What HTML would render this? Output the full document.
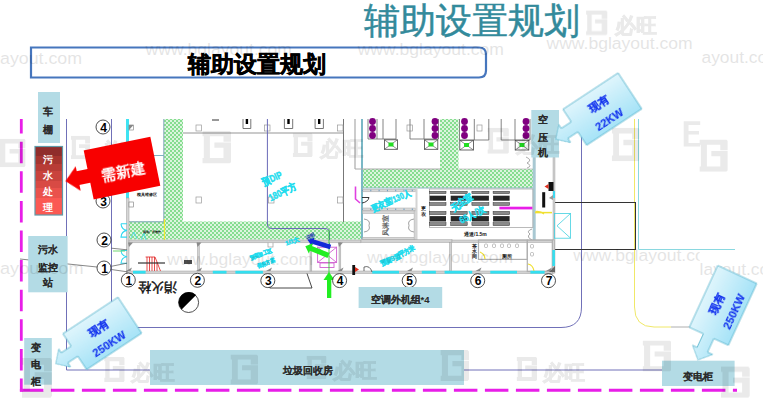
<!DOCTYPE html>
<html><head><meta charset="utf-8">
<style>
html,body{margin:0;padding:0;background:#fff;width:763px;height:412px;overflow:hidden}
svg{position:absolute;left:0;top:0}
text{font-family:"Liberation Sans",sans-serif}
</style></head><body>
<svg width="763" height="412" viewBox="0 0 763 412">
<defs>
<pattern id="hatch" width="4" height="4" patternUnits="userSpaceOnUse">
<rect width="4" height="4" fill="#dcf5de"/><rect width="2" height="2" fill="#86dd90"/><rect x="2" y="2" width="2" height="2" fill="#86dd90"/>
</pattern>
<linearGradient id="redg" x1="0" y1="0" x2="0" y2="1"><stop offset="0" stop-color="#8f2d2b"/><stop offset="0.14" stop-color="#8f2d2b"/><stop offset="0.14" stop-color="#a6352f"/><stop offset="0.25" stop-color="#a6352f"/><stop offset="0.25" stop-color="#b83c36"/><stop offset="0.36" stop-color="#b83c36"/><stop offset="0.36" stop-color="#c9433d"/><stop offset="0.5" stop-color="#c9433d"/><stop offset="0.5" stop-color="#d84a44"/><stop offset="0.61" stop-color="#d84a44"/><stop offset="0.61" stop-color="#ea524c"/><stop offset="0.75" stop-color="#ea524c"/><stop offset="0.75" stop-color="#fb5953"/><stop offset="1.0" stop-color="#fb5953"/></linearGradient>
<linearGradient id="blueg" x1="0" y1="0" x2="0" y2="1">
<stop offset="0" stop-color="#dff5fc"/><stop offset="1" stop-color="#a6e3f7"/>
</linearGradient>
<path id="arr" d="M0,0 H66 V43 H0 V27 H-12 V32 L-22.5,21 L-12,10.5 V15 H0 Z"/>
<path id="arr3" d="M0,0 H68 V43 H0 V27 H-15 V32.5 L-26,21.5 L-15,10.5 V15.5 H0 Z"/>
<symbol id="ig" viewBox="0 0 21.2 24.5" preserveAspectRatio="none">
<path d="M0,0 H20.1 L21.2,1.2 V8.2 H15.6 V4.1 H5.6 V20.4 H15.6 V12.8 H8.9 V8.8 H21.2 V23.3 L20.1,24.5 H0 V20.4 H1.1 V4.1 H0 Z"/>
</symbol>
</defs>

<!-- big title -->
<text x="472" y="33" font-size="36" fill="#338a9b" stroke="#338a9b" stroke-width="0.5" text-anchor="middle">辅助设置规划</text>
<!-- title box -->
<path d="M31,47.5 H479 Q486,47.5 486,54.5 V70.5 Q486,77.5 479,77.5 H31 Z" fill="none" stroke="#4676bd" stroke-width="2.2"/>
<text x="256.5" y="72" font-size="23" font-weight="bold" fill="#000" stroke="#000" stroke-width="0.5" text-anchor="middle">辅助设置规划</text>

<!-- magenta dashed boundary -->
<path d="M21.3,119 V391.6" fill="none" stroke="#e81ee8" stroke-width="2.8" stroke-dasharray="21.5 8.1" stroke-dashoffset="6.9"/>
<path d="M19.9,390.3 H737" fill="none" stroke="#e81ee8" stroke-width="3" stroke-dasharray="23.5 7.5"/>

<!-- site lines -->
<path d="M66.5,119 V370 H663" fill="none" stroke="#7070b8" stroke-width="1"/>
<path d="M111.5,119 V327.5 H561 Q581.5,327.5 581.5,307 V119" fill="none" stroke="#7070b8" stroke-width="1"/>
<path d="M634.5,119 V307 Q634.5,327 654,327 H671" fill="none" stroke="#f0e868" stroke-width="1"/>
<path d="M671,327 H690" fill="none" stroke="#999" stroke-width="0.8"/>
<path d="M638.5,119 V249.5 H735" fill="none" stroke="#8ad8e0" stroke-width="1"/>
<rect x="553.5" y="202.5" width="82" height="47" fill="none" stroke="#333" stroke-width="1"/>

<!-- ===== floor plan ===== -->
<g id="plan">
<!-- green corridors -->
<rect x="164" y="119" width="19" height="103" fill="url(#hatch)"/>
<rect x="128" y="221.5" width="233" height="18" fill="url(#hatch)"/>
<rect x="440" y="119" width="18.5" height="50" fill="url(#hatch)"/>
<rect x="362" y="169" width="171" height="19" fill="url(#hatch)"/>
<path d="M163.8,119 V221.8 H128" fill="none" stroke="#7fa6b8" stroke-width="1"/>
<line x1="164.5" y1="219" x2="164.5" y2="240" stroke="#f2ea30" stroke-width="1.2"/>

<!-- cyan west wall upper -->
<rect x="126" y="119" width="3" height="79" fill="#3fe3f2"/>
<line x1="129" y1="155.5" x2="164" y2="155.5" stroke="#7fb0c0" stroke-width="1"/>
<rect x="129" y="125" width="4.5" height="5" fill="#fff" stroke="#777" stroke-width="0.6"/>
<path d="M129,125 L133.5,125 L129,130Z" fill="#888"/>
<!-- west wall lower gray -->
<rect x="126.5" y="198" width="2.5" height="75" fill="#d6d6d6" stroke="#9a9a9a" stroke-width="0.5"/>
<rect x="129" y="202" width="4.5" height="5" fill="#fff" stroke="#777" stroke-width="0.6"/>

<!-- top north gray line -->
<line x1="183" y1="133" x2="343.5" y2="133" stroke="#b8b8b8" stroke-width="1.4"/>
<line x1="343.5" y1="119" x2="343.5" y2="222" stroke="#777" stroke-width="1"/>
<line x1="355" y1="119" x2="355" y2="169" stroke="#aaa" stroke-width="1.2"/>
<rect x="361" y="119" width="2" height="120" fill="#7ab8c6"/>
<line x1="355" y1="169" x2="440" y2="169" stroke="#aaa" stroke-width="1"/>
<line x1="458.5" y1="169" x2="533" y2="169" stroke="#bbb" stroke-width="0.8"/>
<line x1="362" y1="188" x2="533" y2="188" stroke="#8fb6c4" stroke-width="1"/>
<!-- column squares -->
<g fill="#fff" stroke="#9a9a9a" stroke-width="0.7">
<rect x="196" y="125" width="5.5" height="6"/>
<rect x="264.5" y="125" width="5.5" height="6"/>
<rect x="337.5" y="125" width="5.5" height="6"/>
<rect x="196" y="197" width="5.5" height="6"/>
<rect x="268.5" y="197" width="5.5" height="6"/>
<rect x="337.5" y="197" width="5.5" height="6"/>
<rect x="268" y="241" width="5" height="6"/>
<rect x="407" y="125" width="5.5" height="6"/>
<rect x="477" y="125" width="5" height="6"/>
</g>
<!-- machine icons top -->
<g>
<path d="M243,119 V128.5 H250.8 V119" fill="none" stroke="#666" stroke-width="0.9"/>
<rect x="245.7" y="119" width="2.4" height="5" fill="#000"/>
<path d="M284.4,119 V128.5 H292.7 V119" fill="none" stroke="#666" stroke-width="0.9"/>
<rect x="287.3" y="119" width="2.4" height="5" fill="#000"/>
<path d="M315.1,119 V128.5 H323.4 V119" fill="none" stroke="#666" stroke-width="0.9"/>
<rect x="318" y="119" width="2.4" height="5" fill="#000"/>
<line x1="212" y1="120" x2="219" y2="120" stroke="#333" stroke-width="1"/>
</g>

<!-- DIP room blue rounded line -->
<path d="M267.4,119 V224 Q267.4,228.5 272,228.5 H325 Q329.5,228.5 329.5,233 V246" fill="none" stroke="#6a6ab8" stroke-width="1"/>
<!-- magenta L -->
<path d="M355.5,186.5 V199 L360,203" fill="none" stroke="#e040e0" stroke-width="1.6"/>

<!-- machines (purple circles + X boxes) -->
<g id="mach">
<g stroke="#777" stroke-width="0.9" fill="none">
<path d="M368,119 V139 H396 V119 M377,119 V139 M383,119 V139"/>
<path d="M410,119 V139 H438.5 V119 M424,119 V139"/>
<path d="M459.5,119 V140 H488.8 V119 M474.3,119 V140"/>
<path d="M501.2,119 V140 H530 V119 M515,119 V140"/>
</g>
<g fill="#800080">
<circle cx="372.5" cy="121.5" r="3.4"/><circle cx="372.5" cy="128.5" r="3.4"/><circle cx="372.5" cy="135.5" r="3.4"/>
<circle cx="435" cy="121.5" r="3.4"/><circle cx="435" cy="128.5" r="3.4"/><circle cx="435" cy="135.5" r="3.4"/>
<circle cx="464.5" cy="121.5" r="3.4"/><circle cx="464.5" cy="128.5" r="3.4"/><circle cx="464.5" cy="135.5" r="3.4"/>
<circle cx="526" cy="121.5" r="3.4"/><circle cx="526" cy="128.5" r="3.4"/><circle cx="526" cy="135.5" r="3.4"/>
</g>
<g stroke="#444" stroke-width="0.8" fill="#fff">
<rect x="384.4" y="139.8" width="13" height="9.5"/>
<rect x="424.4" y="139.8" width="13.4" height="9.5"/>
<rect x="459.8" y="140.3" width="13.6" height="9.7"/>
<rect x="515.2" y="140.3" width="13.6" height="9.7"/>
</g>
<g stroke="#444" stroke-width="0.6">
<path d="M384.4,139.8 L397.4,149.3 M397.4,139.8 L384.4,149.3"/>
<path d="M424.4,139.8 L437.8,149.3 M437.8,139.8 L424.4,149.3"/>
<path d="M459.8,140.3 L473.4,150 M473.4,140.3 L459.8,150"/>
<path d="M515.2,140.3 L528.8,150 M528.8,140.3 L515.2,150"/>
</g>
<g fill="#22dd22">
<rect x="388.5" y="142.5" width="5" height="4"/><rect x="428.5" y="142.5" width="5" height="4"/>
<rect x="464" y="143" width="5" height="4"/><rect x="519.5" y="143" width="5" height="4"/>
</g>
</g>

<!-- right wall of machine hall -->
<rect x="532.7" y="157" width="3" height="83" fill="#a8c8d2"/>
<path d="M526,157 Q533,160 527,163 Q533,166 527,168" fill="none" stroke="#777" stroke-width="0.6"/>
<rect x="553" y="157" width="2" height="116" fill="#d0d0d0" stroke="#999" stroke-width="0.4"/>
<rect x="548.5" y="182" width="5" height="9" fill="#111"/>
<path d="M548.5,184 L544.5,186.5 L548.5,189Z" fill="#e03020"/>
<rect x="553" y="191" width="2" height="7" fill="#3fd8f0"/>
<rect x="542.2" y="192.2" width="3" height="15.3" fill="#111"/>
<path d="M549,198 L553,195 L553,200Z" fill="#999"/>

<!-- changing room / air shower -->
<g fill="#d8d8d8" stroke="#a8a8a8" stroke-width="0.5">
<rect x="362.5" y="189.3" width="53" height="2.5"/>
<rect x="362.5" y="208" width="53" height="2.5"/>
<rect x="362.5" y="210.9" width="54" height="2.5"/>
<rect x="362.5" y="237.3" width="54" height="2.5"/>
<rect x="414.1" y="210.9" width="2.5" height="29"/>
</g>
<line x1="362" y1="190.5" x2="415" y2="190.5" stroke="#6a9ac0" stroke-width="1.4" stroke-dasharray="1 7.3"/>
<line x1="362" y1="209.3" x2="415" y2="209.3" stroke="#6a9ac0" stroke-width="1.4" stroke-dasharray="1 7.3"/>
<path d="M364,219 Q371,220 369,225.5 Q371,231 364,232 M414,219 Q407,220 409,225.5 Q407,231 414,232" fill="none" stroke="#777" stroke-width="0.7"/>
<path d="M362,197.5 H369 Q368,202 362,203" fill="none" stroke="#222" stroke-width="0.9"/>
<text transform="translate(388,225) rotate(-90)" font-size="7" font-weight="bold" fill="#666" text-anchor="middle">风淋室</text>
<rect x="415.5" y="188" width="2" height="52" fill="#d4d4d4"/>
<!-- clean room outline + machines rows -->
<rect x="429.4" y="189" width="103.5" height="38.5" fill="none" stroke="#aaa" stroke-width="0.8"/>
<g>
<g fill="#8a8a8a" stroke="#333" stroke-width="0.5"><rect x="429.7" y="191.3" width="16.3" height="2.3"/><rect x="450.7" y="191.3" width="16.5" height="2.3"/><rect x="471.9" y="191.3" width="17" height="2.3"/><rect x="493.1" y="191.3" width="16.5" height="2.3"/>
<rect x="429.7" y="202.6" width="16.3" height="2.8"/><rect x="450.7" y="202.6" width="16.5" height="2.8"/><rect x="471.9" y="202.6" width="17" height="2.8"/><rect x="493.1" y="202.6" width="16.5" height="2.8"/>
<rect x="429.7" y="211.4" width="16.3" height="3.2"/><rect x="450.7" y="211.4" width="16.5" height="3.2"/><rect x="471.9" y="211.4" width="17" height="3.2"/><rect x="493.1" y="211.4" width="16.5" height="3.2"/>
<rect x="429.7" y="222.7" width="16.3" height="2.9"/><rect x="450.7" y="222.7" width="16.5" height="2.9"/><rect x="471.9" y="222.7" width="17" height="2.9"/><rect x="493.1" y="222.7" width="16.5" height="2.9"/></g>
<g fill="#262626"><rect x="429.7" y="195.7" width="16.3" height="5"/><rect x="450.7" y="195.7" width="16.5" height="5"/><rect x="471.9" y="195.7" width="17" height="5"/><rect x="493.1" y="195.7" width="16.5" height="5"/>
<rect x="429.7" y="216.1" width="16.3" height="5.4"/><rect x="450.7" y="216.1" width="16.5" height="5.4"/><rect x="471.9" y="216.1" width="17" height="5.4"/><rect x="493.1" y="216.1" width="16.5" height="5.4"/></g>
</g>
<rect x="499.4" y="206.7" width="33" height="2.7" fill="#e81ee8"/>
<path d="M535.5,211.5 Q541,211 544,214" fill="none" stroke="#f0e030" stroke-width="1.2"/>
<path d="M532,229 Q526,231 530,234 Q526,237 532,240" fill="none" stroke="#666" stroke-width="0.6"/>

<!-- building walls (gray) -->
<g fill="#d2d2d2" stroke="#a0a0a0" stroke-width="0.5">
<rect x="129" y="240" width="232" height="2.8"/>
<rect x="361" y="239.7" width="91" height="2.8"/>
<rect x="452" y="240" width="101" height="2.5"/>
<rect x="126.5" y="271" width="427" height="2.6"/>
<rect x="197.5" y="242.5" width="1.8" height="28.5"/>
<rect x="310" y="242.5" width="1.8" height="28.5"/>
<rect x="339" y="242.5" width="1.8" height="28.5"/>
<rect x="449.5" y="242.5" width="2.2" height="28.5"/>
<rect x="552.4" y="240" width="2.1" height="33"/>
</g>
<!-- toilet rooms -->
<g fill="none" stroke="#b0b0b0" stroke-width="1.2">
<rect x="478.5" y="240" width="48.8" height="19.4"/>
<rect x="527.3" y="240" width="25" height="31.5"/>
</g>
<g fill="#fff" stroke="#999" stroke-width="0.6">
<rect x="484.5" y="244" width="3" height="3.5" rx="1"/><rect x="492.5" y="244" width="3" height="3.5" rx="1"/><rect x="500.5" y="244" width="3" height="3.5" rx="1"/><rect x="507.5" y="244" width="3" height="3.5" rx="1"/><rect x="515.5" y="244" width="3" height="3.5" rx="1"/>
<rect x="530.5" y="244.5" width="3" height="3.5" rx="1"/><rect x="530.5" y="252.5" width="3" height="3.5" rx="1"/>
</g>
<path d="M480,252 Q485,254 485,259" fill="none" stroke="#f0e030" stroke-width="1.2"/>
<path d="M528,264 Q533,265 534,271" fill="none" stroke="#f0e030" stroke-width="1.2"/>

<g fill="#8a8a8a"><path d="M126.0,271 L132.0,267.5 L130.5,271Z"/><path d="M196.0,271 L202.0,267.5 L200.5,271Z"/><path d="M266.0,271 L272.0,267.5 L270.5,271Z"/><path d="M337.5,271 L343.5,267.5 L342,271Z"/><path d="M407.0,271 L413.0,267.5 L411.5,271Z"/><path d="M475.5,271 L481.5,267.5 L480,271Z"/><path d="M546.0,271 L552.0,267.5 L550.5,271Z"/><path d="M128,242.5 L133,242.5 L129,247Z"/><path d="M196.5,242.5 L201.5,242.5 L197.5,247Z"/><path d="M338,242.5 L343,242.5 L339,247Z"/><path d="M549,272 L555,266 L555,272Z" fill="#666"/></g>
<!-- cyan windows bottom wall -->
<g fill="#33dff0">
<rect x="133" y="270.8" width="12.6" height="2.8"/>
<rect x="212.8" y="270.8" width="13.7" height="2.8"/>
<rect x="235.4" y="270.8" width="27.5" height="2.8"/>
<rect x="372.2" y="270.8" width="26.8" height="2.8"/>
<rect x="421.8" y="270.8" width="14.1" height="2.8"/>
<rect x="444.6" y="270.8" width="27.6" height="2.8"/>
<rect x="490.3" y="270.8" width="26.7" height="2.8"/>
<rect x="530.4" y="270.8" width="14.2" height="2.8"/>
<rect x="552.4" y="250" width="2.5" height="16"/>
</g>
<!-- west window arcs -->
<path d="M121,250.5 H127 M121,250.5 Q121.5,256 127,256.8 Q121.5,257.5 121,263.2 H127" fill="none" stroke="#30d8f0" stroke-width="1.1"/>
<path d="M121,223.7 H127 M121,223.7 Q121.5,229.5 127,230.4 Q121.5,231.3 121,237.1 H127" fill="none" stroke="#30d8f0" stroke-width="1.1"/>
<path d="M131,238 L134,232 L137,239 M141,240 L144,233 L146,240" fill="none" stroke="#40d8f0" stroke-width="0.8"/>

<!-- red stairs -->
<g stroke="#e02020" stroke-width="0.8" fill="none">
<path d="M145.6,257 H155 L160.5,271 M147,257 V271 M149.5,257 V271 M152,257 V271 M154.5,257 V271 M157,262 V271"/>
</g>
<rect x="138" y="262" width="27" height="2" fill="#333" opacity="0.6"/>
<rect x="184" y="260" width="8" height="4" fill="#222" opacity="0.8"/>

<!-- trapezoid below wall -->
<path d="M269.8,273.5 V288 H312 L307,273.5" fill="none" stroke="#333" stroke-width="0.9"/>
<!-- magenta X box -->
<g stroke="#d060d0" stroke-width="0.9" fill="none">
<rect x="317.6" y="247.2" width="19" height="15.3"/>
<path d="M317.6,247.2 L336.6,262.5 M336.6,247.2 L317.6,262.5"/>
<rect x="320" y="263" width="14" height="4.5"/>
</g>
<line x1="329" y1="230" x2="329" y2="298" stroke="#22cc22" stroke-width="0.8"/>
<!-- green up arrow -->
<path d="M327,298 V280 H323.5 L329,272 L334.5,280 H331.3 V298Z" fill="#22ee22"/>
<!-- blue & green diag arrows -->
<path d="M0,-2.3 H-18 V-4.5 L-24,0 L-18,4.5 V2.3 H0 Z" transform="translate(330.5,247) rotate(17)" fill="#1428d8"/>
<path d="M0,-2.6 H-19 V-5.5 L-25,0 L-19,5.5 V2.6 H0 Z" transform="translate(328.5,255.5) rotate(22)" fill="#22ee22"/>
<!-- outside right structures -->
<rect x="554.6" y="213.4" width="16" height="24.8" fill="none" stroke="#40d0e0" stroke-width="0.8"/>
<path d="M570.6,213.4 L557,225.8 L570.6,238.2" fill="none" stroke="#40d0e0" stroke-width="0.8"/>
<path d="M535,212.6 H552" stroke="#f0e030" stroke-width="1.5"/>

<!-- leader lines -->
<g stroke="#555" stroke-width="0.7" fill="none">
<line x1="20" y1="259" x2="97" y2="267"/>
<path d="M111.3,266.3 L127,263.2 M111.3,269.5 L127.9,271.9 M111.3,248.2 L127.1,249.8"/>
<line x1="113" y1="251" x2="125" y2="251" stroke="#60d060" stroke-width="0.9"/>
</g>
<!-- grid circles -->
<g fill="#fff" stroke="#222" stroke-width="0.8">
<circle cx="103" cy="127" r="7"/><circle cx="103" cy="201" r="7"/><circle cx="104" cy="240" r="7"/><circle cx="104" cy="268" r="7"/>
<circle cx="128.3" cy="280" r="7"/><circle cx="197.4" cy="280.3" r="7"/><circle cx="267.8" cy="280.6" r="7"/><circle cx="339.6" cy="280.6" r="7"/>
<circle cx="409.2" cy="280.6" r="7"/><circle cx="477.7" cy="280.7" r="7"/><circle cx="548.5" cy="280.7" r="7"/>
</g>
<g font-family="Liberation Serif" font-size="12" font-weight="bold" fill="#000" text-anchor="middle">
<text x="103.5" y="131.5">4</text><text x="103.5" y="205.5">3</text><text x="104.5" y="244.5">2</text><text x="104.5" y="272.5">1</text>
<text x="128.8" y="284.5">1</text><text x="197.9" y="284.8">2</text><text x="268.3" y="285">3</text><text x="340.1" y="285">4</text>
<text x="409.7" y="285">5</text><text x="478.2" y="285">6</text><text x="549" y="285">7</text>
</g>
<!-- 消火栓 upside down -->
<text transform="translate(157.3,282.5) rotate(180)" font-family="Liberation Serif" font-size="13" fill="#111" stroke="#111" stroke-width="0.45" text-anchor="middle">消火栓</text>
<!-- half-black circle -->
<circle cx="188.6" cy="302.5" r="10" fill="#fff" stroke="#222" stroke-width="0.8"/>
<path d="M196.1,294.9 L181.6,309.4 A10,10 0 0 1 196.1,294.9Z" fill="#000"/>
<!-- small black text-like marks -->
<g font-size="5" fill="#111" font-weight="bold">
<text x="136.5" y="196" font-size="4.3">模具维修区</text>
<text x="143" y="232.5" font-size="3.2">现场厂房维护</text>
<text x="421" y="210">更</text><text x="421" y="216">衣</text>
<text x="464" y="236">通道/1.5m</text>
<text x="472" y="248">茶</text><text x="472" y="253">水</text><text x="472" y="258">间</text>
<text x="502" y="258">厕所</text>
</g>
<!-- cyan rotated labels -->
<g fill="#22dcee" stroke="#22dcee" stroke-width="0.45" font-weight="bold" text-anchor="middle">
<text transform="translate(273.5,181.5) rotate(-24) scale(0.78,1)" font-size="10">预DIP</text>
<text transform="translate(284,195) rotate(-26) scale(0.8,1)" font-size="10">180平方</text>
<text transform="translate(392,203.5) rotate(-23) scale(0.8,1)" font-size="9">更衣室/130人</text>
<text transform="translate(463.8,205) rotate(-35) scale(0.85,1)" font-size="9.5">无尘室</text>
<text transform="translate(473.7,217.3) rotate(-28) scale(0.85,1)" font-size="9.5">65人/次</text>
<text transform="translate(398.5,258) rotate(-27) scale(0.85,1)" font-size="7">预留B型平方米</text>
<text transform="translate(261.4,256) rotate(-20) scale(0.85,1)" font-size="5.5">预留加工区</text>
<text transform="translate(266.3,265) rotate(-20) scale(0.85,1)" font-size="5.5">保养方案</text>
<text transform="translate(293,243) rotate(-20)" font-size="6">1/1大</text>
</g>
<text transform="translate(307,240) rotate(-30)" font-size="5" fill="#2030b0" font-weight="bold">说明</text>
<!-- flag + door arc -->
<rect x="352.3" y="265" width="2.8" height="10" fill="#111"/>
<path d="M355,267 L359,269.5 L355,272Z" fill="#e03020"/>
<path d="M364,271 V267 Q370,265 372,272" fill="none" stroke="#333" stroke-width="0.7"/>
</g>

<!-- light blue boxes -->
<g fill="#b3dbe5">
<rect x="38" y="92" width="22" height="51"/>
<rect x="28.2" y="236" width="39.4" height="56.3"/>
<rect x="24.2" y="338" width="27.6" height="46.7"/>
<rect x="531.3" y="110" width="27.7" height="47.5"/>
<rect x="358.6" y="287" width="83.6" height="21"/>
<rect x="150" y="350" width="314" height="35"/>
<rect x="662" y="360.7" width="72.6" height="25.3"/>
</g>
<g font-size="9.5" font-weight="bold" fill="#2a2a2a" stroke="#2a2a2a" stroke-width="0.05" text-anchor="middle">
<text x="48" y="114.5">车</text><text x="48" y="133">棚</text>
<text x="47.5" y="253">污水</text><text x="47.5" y="271">监控</text><text x="47.5" y="286">站</text>
<text x="36" y="350.5">变</text><text x="36" y="368">电</text><text x="36" y="384.5">柜</text>
<text x="543.3" y="122.5">空</text><text x="543.3" y="141">压</text><text x="543.3" y="156">机</text>
<text x="400" y="302.5">空调外机组*4</text>
<text x="307.5" y="373.5">垃圾回收房</text>
<text x="698" y="379.5">变电柜</text>
</g>
<!-- ===== watermarks ===== -->
<g id="wm" fill="#000" opacity="0.1">
<g font-size="17.4" font-family="Liberation Sans, sans-serif">
<text x="0" y="64" textLength="82" lengthAdjust="spacingAndGlyphs">ayout.com</text>
<text x="145.6" y="55.3" textLength="146.4" lengthAdjust="spacingAndGlyphs">www.bglayout.com</text>
<text x="357.7" y="55.3" textLength="146.2" lengthAdjust="spacingAndGlyphs">www.bglayout.com</text>
<text x="546.5" y="48.5" textLength="146.2" lengthAdjust="spacingAndGlyphs">www.bglayout.com</text>
<text x="701.5" y="63">ayout.com</text>
<text x="-4" y="273.5" textLength="87.5" lengthAdjust="spacingAndGlyphs">layout.com</text>
<text x="167" y="265" textLength="146" lengthAdjust="spacingAndGlyphs">www.bglayout.com</text>
<text x="367" y="263" textLength="146" lengthAdjust="spacingAndGlyphs">www.bglayout.com</text>
<svg x="0" y="0" width="699.6" height="412" overflow="hidden"><text x="573.3" y="260.7" textLength="146" lengthAdjust="spacingAndGlyphs">www.bglayout.com</text></svg>
<text x="699.6" y="275">layout.com</text>
</g>
</g>
<!-- logos -->
<g id="logos" fill="#000" opacity="0.085">
<use href="#ig" x="586.1" y="10.6" width="21.2" height="24.5"/>
<use href="#ig" x="70.8" y="135.7" width="19.5" height="23.6"/>
<use href="#ig" x="292.7" y="133.3" width="20" height="23.7"/>
<use href="#ig" x="487.4" y="127.8" width="21.5" height="26"/>
<use href="#ig" x="104.2" y="357" width="20.5" height="25"/>
<use href="#ig" x="306.5" y="355.7" width="20" height="23.6"/>
<use href="#ig" x="516.6" y="357" width="20.5" height="24"/>
<use href="#ig" x="202.3" y="130.7" width="28.8" height="32.8"/>
<use href="#ig" x="611.7" y="127.8" width="27.8" height="33.4"/>
<use href="#ig" x="-2" y="138.7" width="27.6" height="28.5"/>
<use href="#ig" x="230.5" y="354.4" width="27.5" height="30.2"/>
<use href="#ig" x="440.4" y="350" width="28.6" height="30.9"/>
<use href="#ig" x="642.6" y="340.4" width="28.6" height="31"/>
<use href="#ig" x="721" y="366.6" width="28.7" height="30.9"/>
<use href="#ig" x="22" y="358" width="30" height="39.7"/>
<use href="#ig" x="699.4" y="139.4" width="28.4" height="32.4"/>
<path d="M683.7,121.3 H700.2 V125 H688.5 V131 H699 V134.5 H688.5 V143 H700.2 V146.5 H683.7 Z"/>
<g font-size="21" font-weight="bold" text-anchor="start" stroke="#000" stroke-width="0.8">
<text x="614.5" y="33" textLength="42.3" lengthAdjust="spacingAndGlyphs">必旺</text>
<text x="99" y="157.5" textLength="42.5" lengthAdjust="spacingAndGlyphs">必旺</text>
<text x="320" y="155.5" textLength="43.5" lengthAdjust="spacingAndGlyphs">必旺</text>
<text x="515.5" y="152" textLength="44.2" lengthAdjust="spacingAndGlyphs">必旺</text>
<text x="131" y="380" textLength="44" lengthAdjust="spacingAndGlyphs">必旺</text>
<text x="333" y="378" textLength="44.3" lengthAdjust="spacingAndGlyphs">必旺</text>
<text x="543" y="379.5" textLength="42.5" lengthAdjust="spacingAndGlyphs">必旺</text>
</g>
</g>
<!-- red box -->
<rect x="35" y="146.5" width="27.5" height="68.5" fill="url(#redg)" stroke="#5f9aa8" stroke-width="1.2"/>
<g font-size="10" font-weight="bold" fill="#fff" text-anchor="middle">
<text x="47.8" y="162.5">污</text><text x="47.8" y="178.7">水</text><text x="47.8" y="195">处</text><text x="47.8" y="211.2">理</text>
</g>

<!-- red arrow -->
<g transform="translate(83.7,150.4) rotate(-11.5)">
<path d="M0,0 H68 V50 H0 V33 H-11 V39 L-24,26.5 L-11,14 V19 H0 Z" fill="#f80000"/>
<text x="34" y="33.5" font-size="14.5" font-weight="bold" fill="#fff" text-anchor="middle">需新建</text>
</g>

<!-- blue arrows -->
<g transform="translate(563,109.3) rotate(-33.4)">
<use href="#arr" fill="url(#blueg)" stroke="#58b4cc" stroke-width="0.8"/>
<text x="33" y="19" font-size="11.2" font-weight="bold" fill="#1535ee" stroke="#1535ee" stroke-width="0.12" text-anchor="middle">现有</text>
<text x="33" y="38" font-size="11.2" font-weight="bold" fill="#1535ee" stroke="#1535ee" stroke-width="0.12" text-anchor="middle">22KW</text>
</g>
<g transform="translate(62.9,333.7) rotate(-33.5)">
<use href="#arr" fill="url(#blueg)" stroke="#58b4cc" stroke-width="0.8"/>
<text x="33" y="19" font-size="11.2" font-weight="bold" fill="#1535ee" stroke="#1535ee" stroke-width="0.12" text-anchor="middle">现有</text>
<text x="33" y="38" font-size="11.2" font-weight="bold" fill="#1535ee" stroke="#1535ee" stroke-width="0.12" text-anchor="middle">250KW</text>
</g>
<g transform="translate(689.3,327.3) rotate(-65.3)">
<use href="#arr3" fill="url(#blueg)" stroke="#58b4cc" stroke-width="0.8"/>
<text x="33" y="19" font-size="11.2" font-weight="bold" fill="#1535ee" stroke="#1535ee" stroke-width="0.12" text-anchor="middle">现有</text>
<text x="33" y="38" font-size="11.2" font-weight="bold" fill="#1535ee" stroke="#1535ee" stroke-width="0.12" text-anchor="middle">250KW</text>
</g>
</svg>
</body></html>
